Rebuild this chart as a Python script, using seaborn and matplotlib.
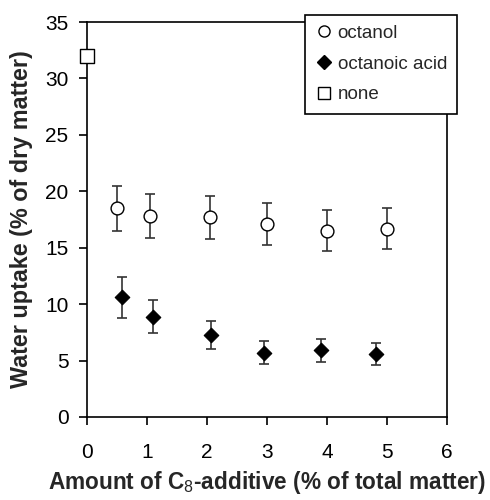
import matplotlib
matplotlib.use("Agg")
import matplotlib.pyplot as plt
import seaborn as sns
import pandas as pd
from matplotlib.lines import Line2D

# Data
octanol_x = [0.5, 1.05, 2.05, 3.0, 4.0, 5.0]
octanol_y = [18.5, 17.8, 17.7, 17.1, 16.5, 16.7]
octanol_err = [2.0, 1.95, 1.9, 1.85, 1.8, 1.8]

acid_x = [0.58, 1.1, 2.07, 2.95, 3.9, 4.82]
acid_y = [10.6, 8.9, 7.3, 5.7, 5.9, 5.6]
acid_err = [1.8, 1.5, 1.25, 1.0, 1.0, 0.95]

none_x = [0.0]
none_y = [32.0]

labels = ["octanol", "octanoic acid", "none"]
xticks = [0, 1, 2, 3, 4, 5, 6]
yticks = [0, 5, 10, 15, 20, 25, 30, 35]

sns.set_style("ticks")
plt.rcParams["font.family"] = ["Liberation Sans", "DejaVu Sans"]
plt.rcParams["mathtext.fontset"] = "custom"
plt.rcParams["mathtext.rm"] = "Liberation Sans"
plt.rcParams["mathtext.bf"] = "Liberation Sans:bold"

fig = plt.figure(figsize=(4.9, 5.0), dpi=100)
ax = fig.add_axes([0.178, 0.166, 0.734, 0.790])

df_oct = pd.DataFrame({"x": octanol_x, "y": octanol_y})
df_acid = pd.DataFrame({"x": acid_x, "y": acid_y})
df_none = pd.DataFrame({"x": none_x, "y": none_y})

ax.errorbar(octanol_x, octanol_y, yerr=octanol_err, fmt="none", ecolor="#333333",
            elinewidth=1.2, capsize=3.5, capthick=1.2, zorder=2)
ax.errorbar(acid_x, acid_y, yerr=acid_err, fmt="none", ecolor="#333333",
            elinewidth=1.2, capsize=3.5, capthick=1.2, zorder=2)

sns.scatterplot(data=df_oct, x="x", y="y", ax=ax, marker="o", s=85,
                facecolor="white", edgecolor="black", linewidth=1.0, zorder=3, clip_on=False)
sns.scatterplot(data=df_acid, x="x", y="y", ax=ax, marker="D", s=55,
                color="black", edgecolor="black", linewidth=0.8, zorder=3, clip_on=False)
sns.scatterplot(data=df_none, x="x", y="y", ax=ax, marker="s", s=110,
                facecolor="white", edgecolor="black", linewidth=1.0, zorder=3, clip_on=False)

ax.set_xlim(0, 6)
ax.set_ylim(0, 35)
ax.set_xticks(xticks)
ax.set_yticks(yticks)
ax.tick_params(axis="both", direction="out", length=5.5, width=1.2, colors="black",
               labelsize=15)
ax.tick_params(axis="x", pad=13)
ax.tick_params(axis="y", pad=8)
for s in ax.spines.values():
    s.set_visible(True)
    s.set_color("black")
    s.set_linewidth(1.2)

ax.set_xlabel(r"Amount of C$_{8}$-additive (% of total matter)", fontsize=16.3,
              fontweight="bold", labelpad=5)
ax.set_ylabel("Water uptake (% of dry matter)", fontsize=16.8, fontweight="bold",
              labelpad=9)

handles = [
    Line2D([], [], marker="o", ls="none", markerfacecolor="white", markeredgecolor="black", markersize=8),
    Line2D([], [], marker="D", ls="none", markerfacecolor="black", markeredgecolor="black", markersize=7),
    Line2D([], [], marker="s", ls="none", markerfacecolor="white", markeredgecolor="black", markersize=9),
]
leg = fig.legend(handles, labels, loc="upper left", bbox_to_anchor=(0.622, 0.971),
                 frameon=True, fancybox=False, fontsize=13.5, handlelength=1.0,
                 handletextpad=0.2, labelspacing=0.72, borderpad=0.55,
                 borderaxespad=0)
leg.get_frame().set_edgecolor("black")
leg.get_frame().set_linewidth(1.2)
leg.get_frame().set_facecolor("white")
leg.get_frame().set_alpha(1)
leg.set_zorder(10)

fig.savefig("out.png", dpi=100)
